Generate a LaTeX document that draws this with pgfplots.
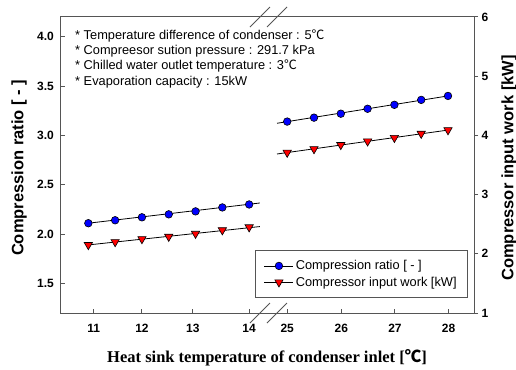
\documentclass[border=0pt]{standalone}
\usepackage{fontspec}
\setmainfont{Liberation Sans}
\newfontfamily\timesfont{Liberation Serif}
\newfontfamily\cjk{Noto Sans CJK KR}
\usepackage{pgfplots}
\usepackage{pgfplotstable}
\pgfplotsset{compat=1.18}
\definecolor{axgray}{RGB}{85,85,85}

% Compression ratio [-]
\pgfplotstableread{
T cr
11.0 2.11
11.5 2.14
12.0 2.17
12.5 2.20
13.0 2.23
13.5 2.27
14.0 2.30
}\crleft
\pgfplotstableread{
T cr
25.0 3.14
25.5 3.18
26.0 3.22
26.5 3.27
27.0 3.31
27.5 3.36
28.0 3.40
}\crright
% Compressor input work [kW]
\pgfplotstableread{
T w
11.0 2.15
11.5 2.20
12.0 2.25
12.5 2.29
13.0 2.34
13.5 2.40
14.0 2.45
}\wleft
\pgfplotstableread{
T w
25.0 3.71
25.5 3.77
26.0 3.84
26.5 3.90
27.0 3.96
27.5 4.03
28.0 4.09
}\wright

\begin{document}
\begin{tikzpicture}
\begin{axis}[
  scale only axis, width=413pt, height=296pt,
  xmin=10.49, xmax=18.195, ymin=1.2, ymax=4.2,
  clip=false,
  axis line style={axgray, line width=1pt},
  xtick={11.1,12,12.95,14,14.71,15.72,16.72,17.72},
  xticklabels={11,12,13,14,25,26,27,28},
  ytick={1.5,2,2.5,3,3.5,4},
  xtick pos=left, ytick pos=left,
  tick align=inside,
  major tick length=4pt,
  tick style={axgray, line width=1pt},
  /pgf/number format/assume math mode=true,
  tick label style={font=\fontsize{12}{14}\selectfont\bfseries},
  y tick label style={/pgf/number format/fixed, /pgf/number format/fixed zerofill, /pgf/number format/precision=1, xshift=-3.7pt},
  x tick label style={yshift=-8pt},
  ylabel={Compression ratio [ - ]},
  ylabel style={at={(axis description cs:-0.0908,0.49)}, anchor=base, font=\fontsize{16.5}{19}\selectfont\bfseries},
  xlabel={\timesfont\bfseries Heat sink temperature of condenser inlet [{\cjk\bfseries ℃}]},
  xlabel style={at={(axis description cs:0.4988,-0.1672)}, anchor=base, font=\fontsize{16.5}{19}\selectfont},
]
\addplot[black, line width=0.8pt, forget plot] coordinates {(11,2.11) (14.2,2.315)};
\addplot[black, line width=0.8pt, forget plot, x filter/.expression={x-10.29}] coordinates {(24.81,3.123) (28,3.40)};
\addplot[only marks, mark=*, mark size=3.8pt, mark options={fill=blue, draw=black, line width=0.6pt}, forget plot] table[x=T,y=cr] {\crleft};
\addplot[only marks, mark=*, mark size=3.8pt, mark options={fill=blue, draw=black, line width=0.6pt}, forget plot, x filter/.expression={x-10.29}] table[x=T,y=cr] {\crright};
% axis break marks
\draw[axgray, line width=0.8pt] ([xshift=-10pt,yshift=-10pt]rel axis cs:0.4818,0) -- ([xshift=10pt,yshift=10pt]rel axis cs:0.4818,0);
\draw[axgray, line width=0.8pt] ([xshift=-10pt,yshift=-10pt]rel axis cs:0.4818,1) -- ([xshift=10pt,yshift=10pt]rel axis cs:0.4818,1);
\draw[axgray, line width=0.8pt] ([xshift=-10pt,yshift=-10pt]rel axis cs:0.523,0) -- ([xshift=10pt,yshift=10pt]rel axis cs:0.523,0);
\draw[axgray, line width=0.8pt] ([xshift=-10pt,yshift=-10pt]rel axis cs:0.523,1) -- ([xshift=10pt,yshift=10pt]rel axis cs:0.523,1);
% annotations
\node[anchor=base west, inner sep=0pt, font=\fontsize{12.8}{15}\selectfont] at (axis description cs:0.0339,0.924) {* Temperature difference of condenser : 5{\cjk ℃}};
\node[anchor=base west, inner sep=0pt, font=\fontsize{12.8}{15}\selectfont] at (axis description cs:0.0339,0.8726) {* Compreesor sution pressure : 291.7 kPa};
\node[anchor=base west, inner sep=0pt, font=\fontsize{12.8}{15}\selectfont] at (axis description cs:0.0339,0.8213) {* Chilled water outlet temperature : 3{\cjk ℃}};
\node[anchor=base west, inner sep=0pt, font=\fontsize{12.8}{15}\selectfont] at (axis description cs:0.0339,0.770) {* Evaporation capacity : 15kW};
\end{axis}

\begin{axis}[
  scale only axis, width=413pt, height=296pt,
  xmin=10.49, xmax=18.195, ymin=1, ymax=6,
  axis x line=none, axis y line*=right,
  axis line style={axgray, line width=1pt},
  ytick={1,2,3,4,5,6},
  ytick pos=right,
  tick align=outside,
  major tick length=4pt,
  tick style={axgray, line width=1pt},
  /pgf/number format/assume math mode=true,
  tick label style={font=\fontsize{12}{14}\selectfont\bfseries},
  ylabel={Compressor input work [kW]},
  ylabel style={at={(axis description cs:1.0956,0.49)}, anchor=base, font=\fontsize{16.5}{19}\selectfont\bfseries},
  legend style={at={(axis description cs:0.9855,0.0507)}, anchor=south east, draw=axgray, line width=0.8pt,
    font=\fontsize{12.8}{15}\selectfont, inner xsep=9pt, inner ysep=8pt, row sep=1.5pt},
  legend cell align=left,
  legend image code/.code={\draw[mark repeat=2,mark phase=2] plot coordinates {(0pt,0pt) (14.5pt,0pt) (29pt,0pt)};},
]
\addlegendimage{black, line width=0.8pt, mark=*, mark size=3.8pt, mark options={fill=blue, draw=black, line width=0.6pt}}
\addlegendentry{Compression ratio [ - ]}
\addlegendimage{black, line width=0.8pt, mark=triangle*, mark size=4.8pt, mark options={fill=red, draw=black, rotate=180, line width=0.6pt}}
\addlegendentry{Compressor input work [kW]}
\addplot[black, line width=0.8pt, forget plot] coordinates {(11,2.15) (14.2,2.46)};
\addplot[black, line width=0.8pt, forget plot, x filter/.expression={x-10.29}] coordinates {(24.81,3.686) (28,4.09)};
\addplot[only marks, mark=triangle*, mark size=4.8pt, mark options={fill=red, draw=black, rotate=180, line width=0.6pt}, forget plot] table[x=T,y=w] {\wleft};
\addplot[only marks, mark=triangle*, mark size=4.8pt, mark options={fill=red, draw=black, rotate=180, line width=0.6pt}, forget plot, x filter/.expression={x-10.29}] table[x=T,y=w] {\wright};
\end{axis}
\pgfresetboundingbox
\path (-61pt,-56pt) rectangle (455pt,313pt);
\end{tikzpicture}
\end{document}
